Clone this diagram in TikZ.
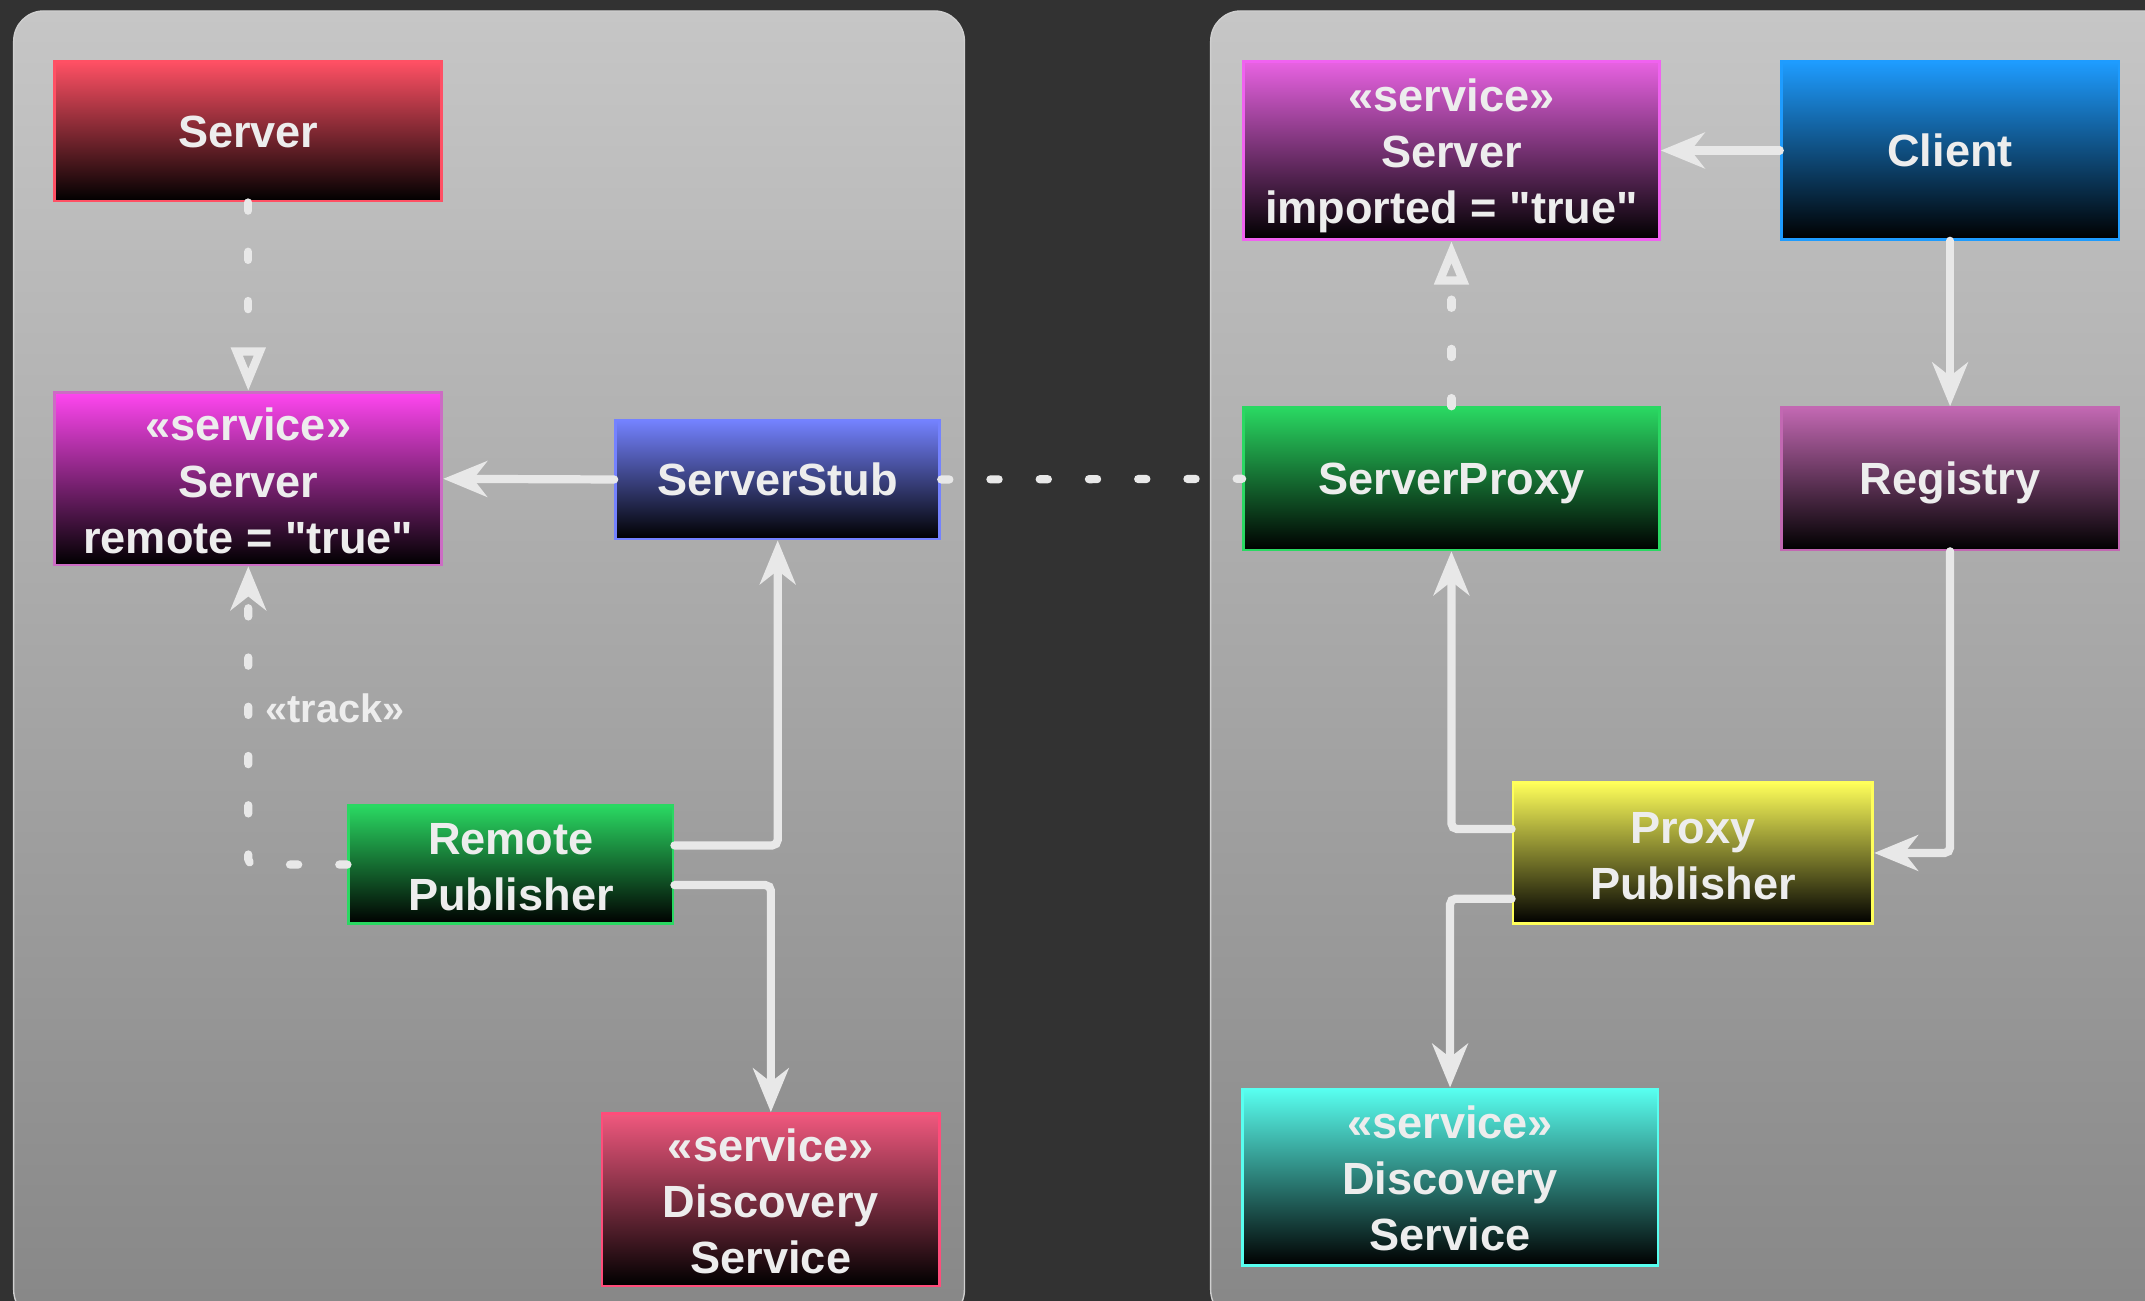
\documentclass[tikz,border=0pt]{standalone}
\usepackage{fontspec}
\setmainfont{Liberation Sans}
\newfontfamily\qfont{Liberation Sans}[Ligatures=NoCommon]
\usetikzlibrary{arrows.meta}
\definecolor{bgdark}{HTML}{323232}
\definecolor{panelTop}{HTML}{C6C6C6}
\definecolor{panelBot}{HTML}{878787}
\definecolor{panelEdge}{HTML}{CFCFCF}
\definecolor{linecol}{HTML}{E8E8E8}
\definecolor{txtcol}{HTML}{EDEDED}
\definecolor{cRed}{HTML}{FF5064}
\definecolor{cMag}{HTML}{FF46F0}
\definecolor{cMagEdge}{HTML}{CC6CC4}
\definecolor{cBlue}{HTML}{7482FF}
\definecolor{cGreen}{HTML}{2AD862}
\definecolor{cPink}{HTML}{F0587E}
\definecolor{cPinkEdge}{HTML}{FF4C7A}
\definecolor{cMag2}{HTML}{E862E2}
\definecolor{cMag2Edge}{HTML}{F062F0}
\definecolor{cSky}{HTML}{1E9CFF}
\definecolor{cPurp}{HTML}{C268B2}
\definecolor{cYel}{HTML}{FFFF5A}
\definecolor{cCyan}{HTML}{58FFF0}
\newcommand{\sq}{{\qfont\bfseries "}}
\newcommand{\topstrut}[1]{\rule{0pt}{#1}}
\begin{document}
\begin{tikzpicture}[x=1pt,y=-1pt,
  box/.style={rectangle, inner sep=0pt, line width=2pt, bottom color=black,
    text=txtcol, align=center,
    font=\fontsize{33}{41}\selectfont\bfseries},
  oneline/.style={text height=23.6pt, text depth=0pt},
  conn/.style={draw=linecol, line width=6pt, line cap=round, rounded corners=4pt,
    -{Stealth[length=32pt,width=26pt,inset=10pt]}},
  dashconn/.style={draw=linecol, line width=6pt, line cap=round,
    dash pattern=on 6pt off 30pt},
  opentip/.style={-{Triangle[open,length=32pt,width=24pt]}},
  solidtip/.style={rounded corners=4pt,-{Stealth[length=32pt,width=26pt,inset=10pt]}},
  lbl/.style={text=txtcol, font=\fontsize{29}{34}\selectfont\bfseries, inner sep=0pt}
]
\useasboundingbox (0,0) rectangle (1568,951);
\fill[bgdark] (0,0) rectangle (1568,951);
\begin{scope}
\clip (0,0) rectangle (1568,951);
\shade[top color=panelTop, bottom color=panelBot, draw=panelEdge, line width=1pt, rounded corners=22pt]
  (10,8) rectangle (705,965);
\shade[top color=panelTop, bottom color=panelBot, draw=panelEdge, line width=1pt, rounded corners=22pt]
  (885,8) rectangle (1610,965);
\end{scope}

% left panel nodes
\node[box, oneline, minimum width=283pt, minimum height=102pt, top color=cRed, draw=cRed]
  (server) at (181.5,96) {Server};
\node[box, minimum width=283pt, minimum height=126pt, top color=cMag, draw=cMagEdge]
  (sremote) at (181.5,350) {\topstrut{27pt}«service»\\Server\\remote = \sq true\sq};
\node[box, oneline, minimum width=237pt, minimum height=87pt, top color=cBlue, draw=cBlue]
  (stub) at (568.5,350.5) {ServerStub};
\node[box, minimum width=237pt, minimum height=86pt, top color=cGreen, draw=cGreen]
  (rpub) at (373.5,632) {\topstrut{27pt}Remote\\Publisher};
\node[box, minimum width=247pt, minimum height=126pt, top color=cPink, draw=cPinkEdge]
  (discL) at (563.5,877) {\topstrut{26pt}«service»\\Discovery\\Service};

% right panel nodes
\node[box, minimum width=304pt, minimum height=130pt, top color=cMag2, draw=cMag2Edge]
  (simp) at (1061,110) {\topstrut{32pt}«service»\\Server\\imported = \sq true\sq};
\node[box, oneline, minimum width=247pt, minimum height=130pt, top color=cSky, draw=cSky]
  (client) at (1425.5,110) {Client};
\node[box, oneline, minimum width=304pt, minimum height=104pt, top color=cGreen, draw=cGreen]
  (proxy) at (1061,350) {ServerProxy};
\node[box, oneline, minimum width=247pt, minimum height=104pt, top color=cPurp, draw=cPurp]
  (registry) at (1425.5,350) {Registry};
\node[box, minimum width=263pt, minimum height=103pt, top color=cYel, draw=cYel]
  (ppub) at (1237.5,623.5) {\topstrut{27pt}Proxy\\Publisher};
\node[box, minimum width=304pt, minimum height=129pt, top color=cCyan, draw=cCyan]
  (discR) at (1060,860.5) {\topstrut{26pt}«service»\\Discovery\\Service};

% left connectors
\draw[dashconn, opentip] (server.south) -- (sremote.north);
\draw[conn] (stub.west) -- (sremote.east);
\draw[conn] ([yshift=14pt]rpub.east) -| (stub.south);
\draw[conn] ([yshift=-15pt]rpub.east) -| (discL.north);
\draw[dashconn, solidtip] (rpub.west) -| (sremote.south);
\node[lbl, anchor=west] (track) at (194,518) {«track»};

% between panels
\draw[dashconn] (stub.east) -- (proxy.west);

% right connectors
\draw[dashconn, opentip] (proxy.north) -- (simp.south);
\draw[conn] (client.west) -- (simp.east);
\draw[conn] (client.south) -- (registry.north);
\draw[conn] (registry.south) |- (ppub.east);
\draw[conn] ([yshift=17.5pt]ppub.west) -| (proxy.south);
\draw[conn] ([yshift=-33.5pt]ppub.west) -| (discR.north);
\end{tikzpicture}
\end{document}
